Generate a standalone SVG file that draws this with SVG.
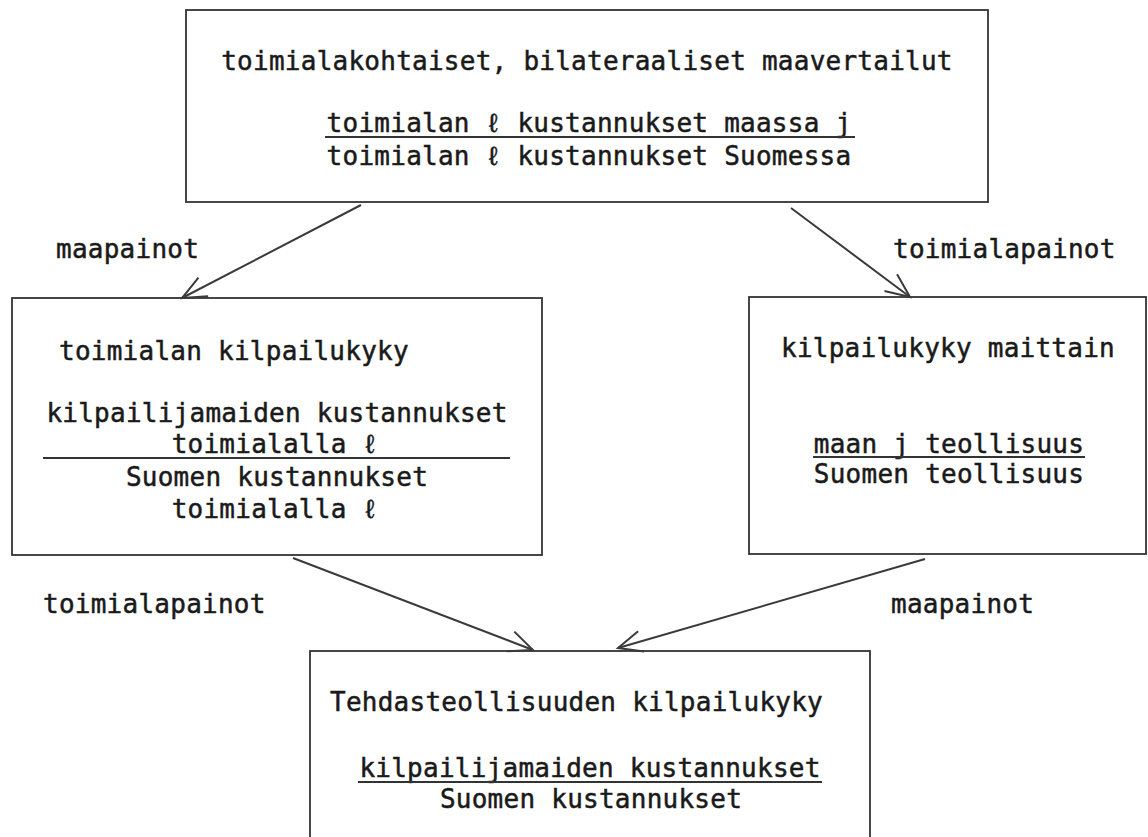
<svg xmlns="http://www.w3.org/2000/svg" width="1148" height="837" viewBox="0 0 1148 837">
<defs>
<style>
.box{fill:none;stroke:#333;stroke-width:1.8}
.t{font-family:"DejaVu Sans Mono","Liberation Mono",monospace;font-size:26px;letter-spacing:0.25px;fill:#1a1a1a;stroke:#1a1a1a;stroke-width:0.5}
.c{text-anchor:middle}
.bar{stroke:#333;stroke-width:1.8}
.conn{fill:none;stroke:#3a3a3a;stroke-width:2}
</style>
<marker id="arr" markerWidth="28" markerHeight="24" refX="25" refY="12" orient="auto" markerUnits="userSpaceOnUse">
<path d="M1,1.5 L25,12 L1,22.5" fill="none" stroke="#3a3a3a" stroke-width="2"/>
</marker>
</defs>
<rect width="1148" height="837" fill="#fff"/>

<g id="top-node">
<rect class="box" x="186" y="10" width="802" height="192"/>
<text class="t c" x="587" y="70">toimialakohtaiset, bilateraaliset maavertailut</text>
<text class="t c" x="589" y="132">toimialan ℓ kustannukset maassa j</text>
<line class="bar" x1="325" y1="137" x2="855" y2="137"/>
<text class="t c" x="589" y="165">toimialan ℓ kustannukset Suomessa</text>
</g>

<g id="left-node">
<rect class="box" x="12" y="298" width="530" height="257"/>
<text class="t" x="59" y="360">toimialan kilpailukyky</text>
<text class="t c" x="277" y="422">kilpailijamaiden kustannukset</text>
<text class="t c" x="275" y="453">toimialalla ℓ</text>
<line class="bar" x1="43" y1="458" x2="510" y2="458"/>
<text class="t c" x="277" y="486">Suomen kustannukset</text>
<text class="t c" x="275" y="518">toimialalla ℓ</text>
</g>

<g id="right-node">
<rect class="box" x="749" y="297" width="397" height="257"/>
<text class="t c" x="948" y="357">kilpailukyky maittain</text>
<text class="t c" x="949" y="453">maan j teollisuus</text>
<line class="bar" x1="813" y1="457" x2="1085" y2="457"/>
<text class="t c" x="949" y="483">Suomen teollisuus</text>
</g>

<g id="bottom-node">
<rect class="box" x="310" y="651" width="560" height="220"/>
<text class="t" x="330" y="711">Tehdasteollisuuden kilpailukyky</text>
<text class="t c" x="590" y="777">kilpailijamaiden kustannukset</text>
<line class="bar" x1="358" y1="782" x2="822" y2="782"/>
<text class="t c" x="591" y="808">Suomen kustannukset</text>
</g>

<g id="connectors">
<line class="conn" x1="361" y1="205" x2="182" y2="298" marker-end="url(#arr)"/>
<line class="conn" x1="791" y1="208" x2="910" y2="297" marker-end="url(#arr)"/>
<line class="conn" x1="293" y1="558" x2="533" y2="650" marker-end="url(#arr)"/>
<line class="conn" x1="925" y1="559" x2="618" y2="648" marker-end="url(#arr)"/>
<text class="t" x="56" y="258">maapainot</text>
<text class="t" x="893" y="258">toimialapainot</text>
<text class="t" x="43" y="613">toimialapainot</text>
<text class="t" x="891" y="613">maapainot</text>
</g>
</svg>
